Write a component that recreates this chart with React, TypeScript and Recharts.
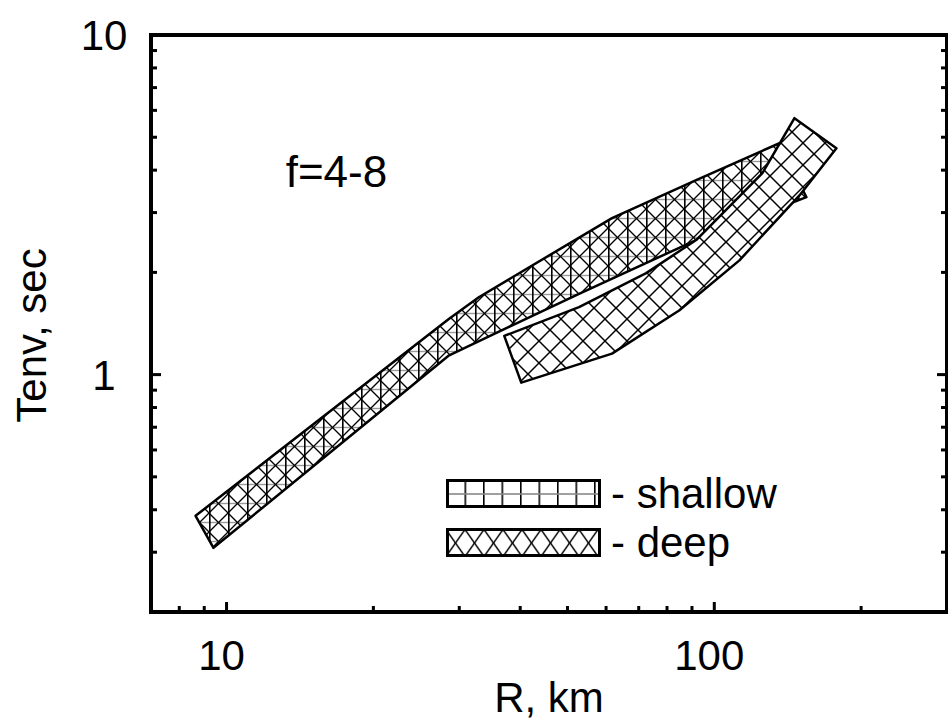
import React from 'react';
import { ScatterChart, Scatter, XAxis, YAxis, Legend, ReferenceDot } from 'recharts';

const FONT = '"Liberation Sans", Arial, Helvetica, sans-serif';

// axis ticks (log-log)
const xMajor = [10, 100];
const xMinor = [8, 9, 20, 30, 40, 50, 60, 70, 80, 90, 200];
const yMajor = [1, 10];
const yMinor = [0.2, 0.3, 0.4, 0.5, 0.6, 0.7, 0.8, 0.9, 2, 3, 4, 5, 6, 7, 8, 9];

// shallow band outline: upper edge and lower edge, left to right
const shallowTopR = [8.64, 28.6, 32.9, 61.7, 91.8, 136];
const shallowTopT = [0.384, 1.46, 1.69, 2.89, 3.74, 4.8];
const shallowBottomR = [9.4, 28.6, 52.8, 91.8, 154.5];
const shallowBottomT = [0.309, 1.14, 1.73, 2.49, 3.33];

// deep band outline
const deepTopR = [37.1, 52.8, 72.5, 91.8, 125.5, 146];
const deepTopT = [1.3, 1.58, 1.99, 2.49, 3.92, 5.69];
const deepBottomR = [40.2, 61.7, 84.7, 112.6, 149.5, 178];
const deepBottomT = [0.947, 1.153, 1.545, 2.17, 3.37, 4.64];

const legendLabels = ['- shallow', '- deep'];
const legendFills = ['shallowKey', 'deepKey'];

const note = { r: 16.8, t: 3.96, text: 'f=4-8' };

function outline(topR: number[], topT: number[], botR: number[], botT: number[]) {
  const upper = topR.map((r, i) => ({ r, t: topT[i] }));
  const lower = botR.map((r, i) => ({ r, t: botT[i] })).reverse();
  return [...upper, ...lower];
}

const shallowPoly = outline(shallowTopR, shallowTopT, shallowBottomR, shallowBottomT);
const deepPoly = outline(deepTopR, deepTopT, deepBottomR, deepBottomT);

const xTicks = [...xMinor, ...xMajor].sort((a, b) => a - b);
const yTicks = [...yMinor, ...yMajor].sort((a, b) => a - b);

const band = (fillId: string) => (props: any) => {
  const pts = props.points ?? [];
  if (!pts.length) return <g />;
  const d = pts.map((p: any, i: number) => `${i ? 'L' : 'M'}${p.x},${p.y}`).join(' ') + ' Z';
  return <path d={d} fill={`url(#${fillId})`} stroke="#000" strokeWidth={2.5} strokeLinejoin="round" />;
};

const noPoint = () => <g />;

const frame = { stroke: '#000', strokeWidth: 4, strokeLinecap: 'square' as const };

function BottomTick({ x, y, payload }: any) {
  const major = xMajor.includes(payload.value);
  return (
    <g>
      <line x1={x} x2={x} y1={y} y2={y - (major ? 10 : 6)} stroke="#000" strokeWidth={3} />
      {major && (
        <text x={x - 5} y={y + 58} textAnchor="middle" fontSize={42} fontFamily={FONT} fill="#000">
          {payload.value}
        </text>
      )}
    </g>
  );
}

function TopTick({ x, y, payload }: any) {
  const major = xMajor.includes(payload.value);
  return <line x1={x} x2={x} y1={y} y2={y + (major ? 10 : 6)} stroke="#000" strokeWidth={3} />;
}

function LeftTick({ x, y, payload }: any) {
  const major = yMajor.includes(payload.value);
  return (
    <g>
      <line x1={x} x2={x + (major ? 10 : 6)} y1={y} y2={y} stroke="#000" strokeWidth={3} />
      {major && (
        <text x={x - 47} y={y} dy="0.36em" textAnchor="middle" fontSize={42} fontFamily={FONT} fill="#000">
          {payload.value}
        </text>
      )}
    </g>
  );
}

function RightTick({ x, y, payload }: any) {
  const major = yMajor.includes(payload.value);
  return <line x1={x} x2={x - (major ? 10 : 6)} y1={y} y2={y} stroke="#000" strokeWidth={3} />;
}

function KeyContent() {
  return (
    <div style={{ fontFamily: FONT, fontSize: 42, color: '#000' }}>
      {legendLabels.map((label, i) => (
        <div key={label} style={{ display: 'flex', alignItems: 'center', height: 49 }}>
          <svg width={156} height={30} style={{ display: 'block' }}>
            <defs>
              <pattern id="shallowKey" patternUnits="userSpaceOnUse" width={18.5} height={28}>
                <rect width={18.5} height={28} fill="#fff" />
                <line x1={0.8} x2={0.8} y1={0} y2={28} stroke="#000" strokeWidth={1.6} />
                <line x1={0} x2={18.5} y1={15} y2={15} stroke="#888" strokeWidth={1.6} />
              </pattern>
              <pattern id="deepKey" patternUnits="userSpaceOnUse" width={19} height={28} y={1.5}>
                <rect width={19} height={28} fill="#fff" />
                <line x1={0} y1={0} x2={19} y2={27} stroke="#000" strokeWidth={1.4} />
                <line x1={0} y1={27} x2={19} y2={0} stroke="#000" strokeWidth={1.4} />
              </pattern>
            </defs>
            <rect x={1.5} y={1.5} width={152} height={26} fill={`url(#${legendFills[i]})`} stroke="#000" strokeWidth={3} />
          </svg>
          <span style={{ marginLeft: 9, lineHeight: '49px' }}>{label}</span>
        </div>
      ))}
    </div>
  );
}

export default function App() {
  return (
    <div style={{ position: 'absolute', left: 0, top: 0, background: '#fff' }}>
      <ScatterChart width={948} height={722} margin={{ top: 34, right: 0, bottom: 0, left: 0 }}>
        <defs>
          <pattern id="shallowFill" patternUnits="userSpaceOnUse" width={19} height={19}>
            <rect width={19} height={19} fill="#fff" />
            <line x1={0} x2={19} y1={9.5} y2={9.5} stroke="#999" strokeWidth={1.4} />
            <line x1={0.8} x2={0.8} y1={0} y2={19} stroke="#000" strokeWidth={1.6} />
            <line x1={0} y1={0} x2={19} y2={19} stroke="#000" strokeWidth={1.3} />
            <line x1={0} y1={19} x2={19} y2={0} stroke="#000" strokeWidth={1.3} />
          </pattern>
          <pattern id="deepFill" patternUnits="userSpaceOnUse" width={22} height={22}>
            <rect width={22} height={22} fill="#fff" />
            <line x1={0} y1={0} x2={22} y2={22} stroke="#000" strokeWidth={1.5} />
            <line x1={0} y1={22} x2={22} y2={0} stroke="#000" strokeWidth={1.5} />
          </pattern>
        </defs>
        <XAxis
          type="number"
          dataKey="r"
          scale="log"
          domain={[7, 300]}
          allowDataOverflow
          ticks={xTicks}
          interval={0}
          tickLine={false}
          tickSize={0}
          tickMargin={0}
          height={110}
          axisLine={frame}
          tick={(p: any) => <BottomTick {...p} />}
          label={{ value: 'R, km', position: 'insideBottom', offset: 10, fontSize: 42, fontFamily: FONT, fill: '#000' }}
        />
        <XAxis
          xAxisId="top"
          orientation="top"
          type="number"
          scale="log"
          domain={[7, 300]}
          allowDataOverflow
          ticks={xTicks}
          interval={0}
          tickLine={false}
          tickSize={0}
          tickMargin={0}
          height={1}
          axisLine={frame}
          tick={(p: any) => <TopTick {...p} />}
        />
        <YAxis
          type="number"
          dataKey="t"
          scale="log"
          domain={[0.2, 10]}
          allowDataOverflow
          ticks={yTicks}
          interval={0}
          tickLine={false}
          tickSize={0}
          tickMargin={0}
          width={151}
          axisLine={frame}
          tick={(p: any) => <LeftTick {...p} />}
          label={{ value: 'Tenv, sec', angle: -90, position: 'center', dx: -44, dy: 12, fontSize: 42, fontFamily: FONT, fill: '#000' }}
        />
        <YAxis
          yAxisId="right"
          orientation="right"
          type="number"
          scale="log"
          domain={[0.2, 10]}
          allowDataOverflow
          ticks={yTicks}
          interval={0}
          tickLine={false}
          tickSize={0}
          tickMargin={0}
          width={1}
          axisLine={frame}
          tick={(p: any) => <RightTick {...p} />}
        />
        <Scatter
          name="shallow"
          data={shallowPoly}
          line={band('shallowFill')}
          lineType="joint"
          shape={noPoint}
          legendType="none"
          isAnimationActive={false}
        />
        <Scatter
          name="deep"
          data={deepPoly}
          line={band('deepFill')}
          lineType="joint"
          shape={noPoint}
          legendType="none"
          isAnimationActive={false}
        />
        <ReferenceDot
          x={note.r}
          y={note.t}
          r={0}
          fill="none"
          stroke="none"
          label={{ value: note.text, position: 'center', fontSize: 44, fontFamily: FONT, fill: '#000' }}
        />
        <Legend
          layout="vertical"
          align="center"
          verticalAlign="middle"
          wrapperStyle={{ left: 446, top: 469, width: 400 }}
          content={() => <KeyContent />}
        />
      </ScatterChart>
    </div>
  );
}
